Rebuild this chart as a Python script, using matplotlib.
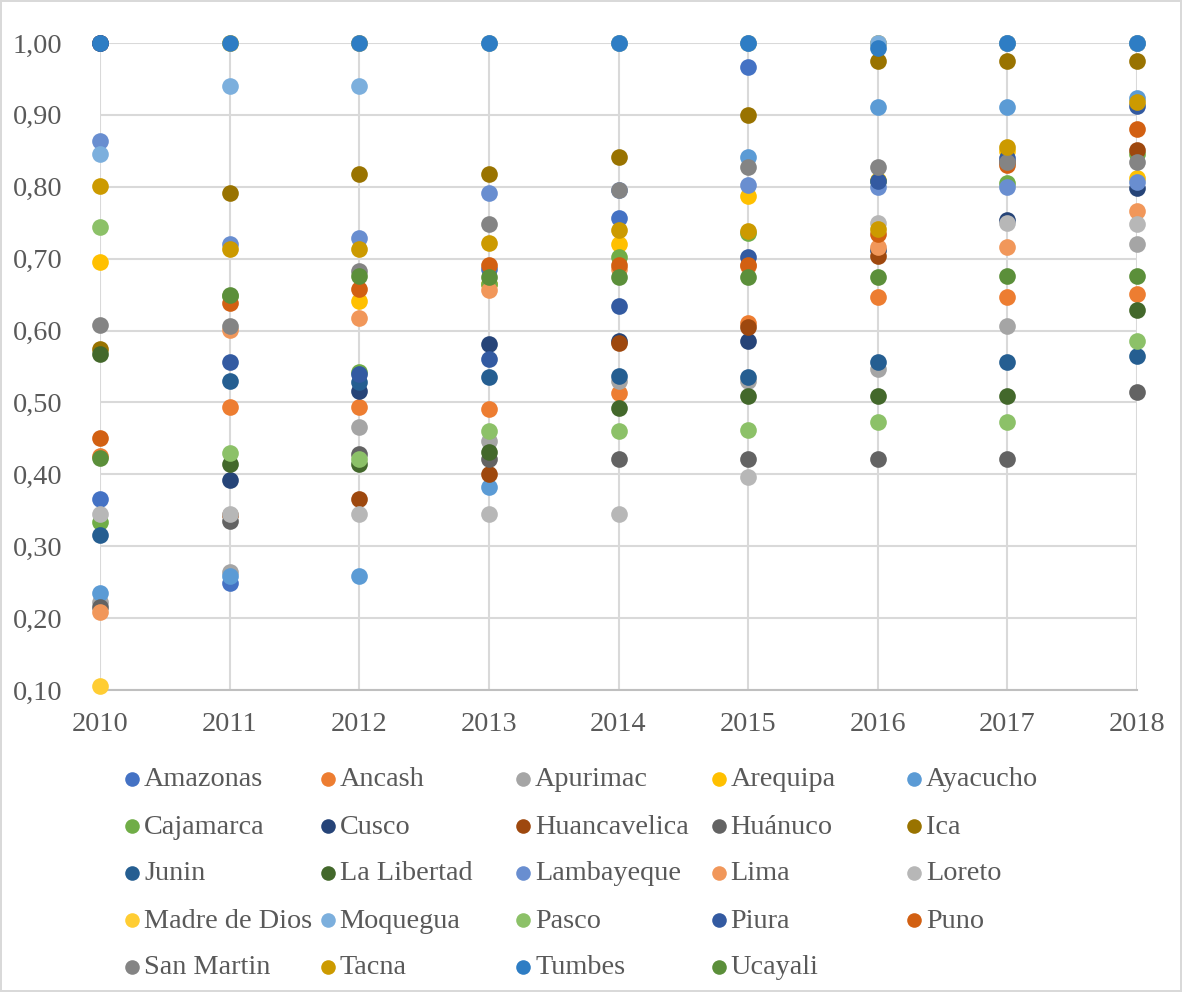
import matplotlib
matplotlib.use("Agg")
import matplotlib.pyplot as plt  # noqa: E402
from matplotlib.ticker import FuncFormatter, MultipleLocator  # noqa: E402

# ── Data: index per region, 2010-2018 ───────────────────────────────

YEARS = [2010, 2011, 2012, 2013, 2014, 2015, 2016, 2017, 2018]

REGIONS = [
    "Amazonas", "Ancash", "Apurimac", "Arequipa", "Ayacucho",
    "Cajamarca", "Cusco", "Huancavelica", "Huánuco", "Ica",
    "Junin", "La Libertad", "Lambayeque", "Lima", "Loreto",
    "Madre de Dios", "Moquegua", "Pasco", "Piura", "Puno",
    "San Martin", "Tacna", "Tumbes", "Ucayali",
]

amazonas = [0.366, 0.249, 1.000, 0.685, 0.756, 0.966, 1.000, 1.000, 1.000]
ancash = [0.425, 0.493, 0.493, 0.491, 0.513, 0.610, 0.646, 0.646, 0.651]
apurimac = [0.223, 0.264, 0.466, 0.447, 0.530, 0.530, 0.546, 0.607, 0.720]
arequipa = [0.695, 1.000, 0.641, 0.665, 0.720, 0.787, 0.810, 0.850, 0.812]
ayacucho = [0.235, 0.258, 0.258, 0.382, 1.000, 0.841, 0.911, 0.911, 0.924]
cajamarca = [0.333, 0.648, 0.542, 0.665, 0.703, 0.736, 0.808, 0.805, 0.845]
cusco = [1.000, 0.392, 0.516, 0.581, 0.585, 0.586, 0.712, 0.754, 0.798]
huancavelica = [1.000, 0.343, 0.366, 0.400, 0.583, 0.605, 0.704, 0.835, 0.851]
huanuco = [0.215, 0.335, 0.428, 0.422, 0.422, 0.422, 0.422, 0.422, 0.515]
ica = [0.575, 0.792, 0.818, 0.818, 0.841, 0.900, 0.975, 0.975, 0.975]
junin = [0.315, 0.530, 0.528, 0.535, 0.537, 0.535, 0.556, 0.556, 0.564]
la_libertad = [0.567, 0.415, 0.415, 0.431, 0.492, 0.509, 0.509, 0.509, 0.628]
lambayeque = [0.864, 0.720, 0.729, 0.792, 0.795, 0.802, 0.800, 0.800, 0.806]
lima = [0.209, 0.601, 0.618, 0.657, 0.685, 0.690, 0.716, 0.716, 0.767]
loreto = [0.345, 0.345, 0.345, 0.345, 0.345, 0.396, 0.750, 0.750, 0.748]
madre_de_dios = [0.105, 1.000, 1.000, 1.000, 1.000, 1.000, 1.000, 1.000, 1.000]
moquegua = [0.846, 0.940, 0.940, 1.000, 1.000, 1.000, 1.000, 1.000, 1.000]
pasco = [0.744, 0.430, 0.422, 0.460, 0.460, 0.461, 0.473, 0.473, 0.586]
piura = [1.000, 0.556, 0.540, 0.561, 0.634, 0.703, 0.808, 0.840, 0.912]
puno = [0.450, 0.639, 0.658, 0.691, 0.691, 0.691, 0.735, 0.830, 0.881]
san_martin = [0.608, 0.607, 0.683, 0.748, 0.796, 0.828, 0.828, 0.835, 0.835]
tacna = [0.801, 0.714, 0.714, 0.722, 0.740, 0.739, 0.741, 0.855, 0.918]
tumbes = [1.000, 1.000, 1.000, 1.000, 1.000, 1.000, 0.993, 1.000, 1.000]
ucayali = [0.423, 0.649, 0.676, 0.674, 0.675, 0.675, 0.674, 0.676, 0.676]

SERIES = [
    amazonas, ancash, apurimac, arequipa, ayacucho,
    cajamarca, cusco, huancavelica, huanuco, ica,
    junin, la_libertad, lambayeque, lima, loreto,
    madre_de_dios, moquegua, pasco, piura, puno,
    san_martin, tacna, tumbes, ucayali,
]

# Office chart palette, in series order
COLORS = [
    "#4472C4", "#ED7D31", "#A5A5A5", "#FFC000", "#5B9BD5",
    "#70AD47", "#264478", "#9E480E", "#636363", "#997300",
    "#255E91", "#43682B", "#698ED0", "#F1975A", "#B7B7B7",
    "#FFCD33", "#7CAFDD", "#8CC168", "#335AA1", "#D26012",
    "#848484", "#CC9A00", "#2E7DC4", "#5B8F3A",
]

W, H = 1182, 992
TEXT = "#595959"
GRID = "#D9D9D9"
FONT_SIZE = 20.3

plt.rcParams["font.family"] = ["Liberation Serif", "DejaVu Serif"]

fig = plt.figure(figsize=(W / 100, H / 100), dpi=100)
fig.patch.set_facecolor("white")
fig.patch.set_edgecolor(GRID)
fig.patch.set_linewidth(1.5)

# plot area in pixels: x 100..1137, y 43..690
ax = fig.add_axes([100 / W, 1 - 690 / H, 1037 / W, 647 / H])
ax.set_xlim(2010, 2018)
ax.set_ylim(0.10, 1.00)
ax.xaxis.set_major_locator(MultipleLocator(1))
ax.yaxis.set_major_locator(MultipleLocator(0.1))
ax.yaxis.set_major_formatter(FuncFormatter(lambda v, _: f"{v:.2f}".replace(".", ",")))
ax.xaxis.set_major_formatter(FuncFormatter(lambda v, _: f"{int(round(v))}"))
ax.grid(True, color=GRID, linewidth=1.5)
ax.set_axisbelow(True)
for side in ("top", "right", "left"):
    ax.spines[side].set_visible(False)
ax.spines["bottom"].set_color("#BFBFBF")
ax.spines["bottom"].set_linewidth(1.5)
ax.tick_params(axis="both", length=0, labelsize=FONT_SIZE, labelcolor=TEXT)
ax.tick_params(axis="y", pad=27)
ax.tick_params(axis="x", pad=16)

for i, (vals, color) in enumerate(zip(SERIES, COLORS)):
    ax.plot(YEARS, vals, linestyle="none", marker="o", markersize=12,
            markeredgewidth=0, color=color, clip_on=False, zorder=3 + i * 0.01)

# legend: 5 columns, filled row by row
lax = fig.add_axes([0, 0, 1, 1])
lax.set_xlim(0, W)
lax.set_ylim(H, 0)
lax.axis("off")
for i, (name, color) in enumerate(zip(REGIONS, COLORS)):
    row, col = divmod(i, 5)
    mx = 132 + col * 195.5
    my = 779 + row * 47
    lax.plot([mx], [my], marker="o", markersize=10.5, markeredgewidth=0,
             color=color, linestyle="none")
    lax.text(mx + 12, my + 1, name, fontsize=FONT_SIZE, color=TEXT,
             va="center", ha="left")

fig.savefig("out.png", dpi=100)
